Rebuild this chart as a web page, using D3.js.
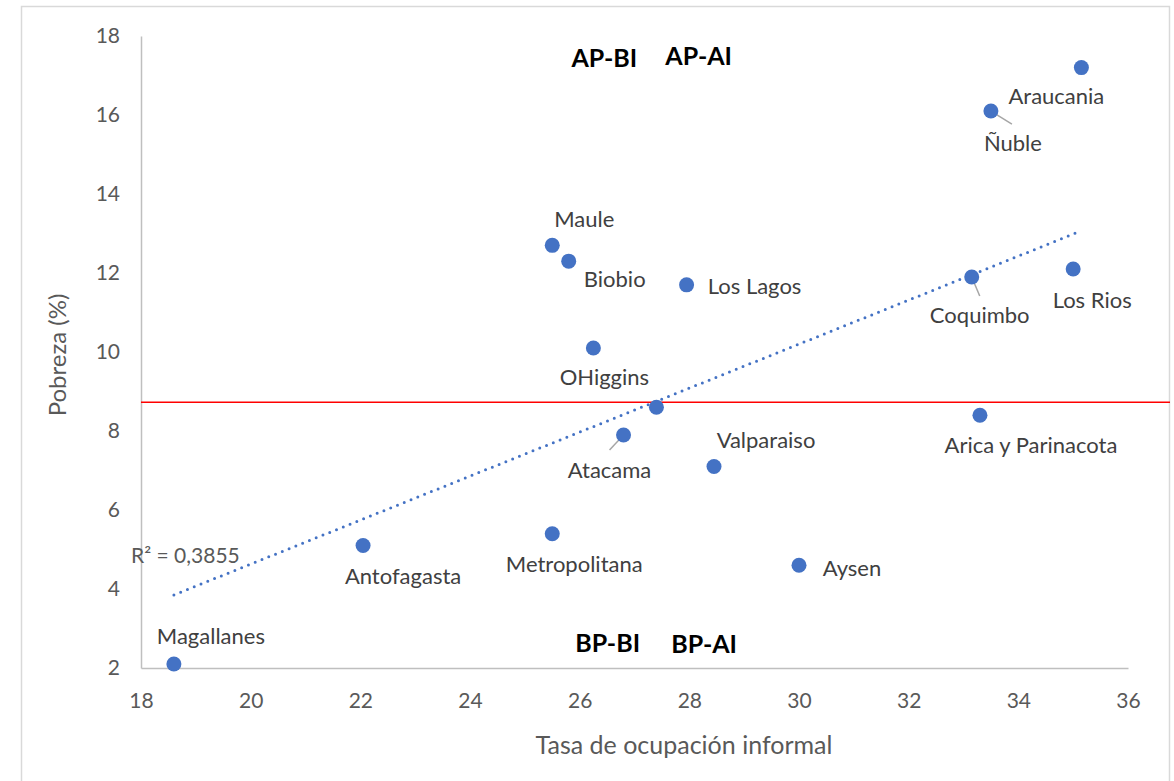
<!DOCTYPE html>
<html>
<head>
<meta charset="utf-8">
<script src="https://cdn.jsdelivr.net/npm/d3@7"></script>
<style>
  html, body { margin: 0; padding: 0; background: #fff; }
  svg { display: block; font-family: Lato, "Open Sans", sans-serif; }
</style>
</head>
<body>
<svg id="chart" width="1174" height="781"></svg>
<script>
// ---- data ----
const regions = ["Magallanes","Antofagasta","Metropolitana","Aysen","Valparaiso","Atacama","Tarapaca","OHiggins","Maule","Biobio","Los Lagos","Coquimbo","Los Rios","Araucania","Ñuble","Arica y Parinacota"];
const informalidad = [18.6, 22.05, 25.5, 30.0, 28.45, 26.8, 27.4, 26.25, 25.5, 25.8, 27.95, 33.15, 35.0, 35.15, 33.5, 33.3];
const pobreza      = [2.1, 5.1, 5.4, 4.6, 7.1, 7.9, 8.6, 10.1, 12.7, 12.3, 11.7, 11.9, 12.1, 17.2, 16.1, 8.4];
const showLabel    = [true,true,true,true,true,true,false,true,true,true,true,true,true,true,true,true];
const xTicks = [18, 20, 22, 24, 26, 28, 30, 32, 34, 36];
const yTicks = [2, 4, 6, 8, 10, 12, 14, 16, 18];
const povertyLine = 8.73;
const trendSlope = 0.557;
const trendIntercept = -6.51;
const rSquaredText = "R² = 0,3855";
const quadrantLabels = ["AP-BI", "AP-AI", "BP-BI", "BP-AI"];
const xTitle = "Tasa de ocupación informal";
const yTitle = "Pobreza (%)";

// ---- layout (not data) ----
const labelOffsets = {
  "Magallanes": [37, -20], "Antofagasta": [40, 38], "Metropolitana": [22, 38],
  "Aysen": [53, 11], "Valparaiso": [52, -19], "Atacama": [-14, 43],
  "OHiggins": [11, 37], "Maule": [32, -18], "Biobio": [46, 26],
  "Los Lagos": [68, 9], "Coquimbo": [8, 46], "Los Rios": [19, 39],
  "Araucania": [-25, 36], "Ñuble": [22, 40], "Arica y Parinacota": [51, 38]
};
const leaders = { "Atacama": [-14, 15], "Coquimbo": [8, 19], "Ñuble": [21, 13] };
const quadPos = [[26.45, 17.22], [28.17, 17.27], [26.51, 2.405], [28.27, 2.38]];

const svg = d3.select("#chart");
const x = d3.scaleLinear().domain([18, 36]).range([141, 1128]);
const y = d3.scaleLinear().domain([2, 18]).range([668, 36]);

// outer border
svg.append("rect").attr("x", 21.5).attr("y", 6.5).attr("width", 1148).attr("height", 820)
  .attr("fill", "none").attr("stroke", "#d9d9d9").attr("stroke-width", 1.5);

// axes
const xAxis = d3.axisBottom(x).tickValues(xTicks).tickSize(0).tickPadding(25);
const gx = svg.append("g").attr("transform", `translate(0,${y(2)})`).call(xAxis);
gx.select(".domain").attr("stroke", "#bfbfbf").attr("stroke-width", 1.5);
gx.selectAll("text").attr("font-size", 21).attr("fill", "#595959").attr("font-family", "Lato, sans-serif");

const yAxis = d3.axisLeft(y).tickValues(yTicks).tickSize(0).tickPadding(21);
const gy = svg.append("g").attr("transform", `translate(${x(18)},0)`).call(yAxis);
gy.select(".domain").attr("stroke", "#bfbfbf").attr("stroke-width", 1.5);
gy.selectAll("text").attr("font-size", 21).attr("fill", "#595959").attr("font-family", "Lato, sans-serif");

// poverty reference line
svg.append("line").attr("x1", x(18)).attr("x2", 1170).attr("y1", y(povertyLine)).attr("y2", y(povertyLine))
  .attr("stroke", "#ff0000").attr("stroke-width", 1.5);

// trendline
const xmin = d3.min(informalidad), xmax = d3.max(informalidad);
svg.append("line")
  .attr("x1", x(xmin)).attr("y1", y(trendSlope * xmin + trendIntercept))
  .attr("x2", x(xmax)).attr("y2", y(trendSlope * xmax + trendIntercept))
  .attr("stroke", "#4472c4").attr("stroke-width", 3)
  .attr("stroke-linecap", "round").attr("stroke-dasharray", "0,7.3");

// R² label
svg.append("text").attr("x", 131).attr("y", 563).attr("font-size", 21).attr("fill", "#595959").text(rSquaredText);

// points
const pts = regions.map((r, i) => ({ name: r, xv: informalidad[i], yv: pobreza[i], lab: showLabel[i] }));

// leader lines
svg.append("g").selectAll("line").data(pts.filter(d => leaders[d.name])).join("line")
  .attr("x1", d => x(d.xv)).attr("y1", d => y(d.yv))
  .attr("x2", d => x(d.xv) + leaders[d.name][0]).attr("y2", d => y(d.yv) + leaders[d.name][1])
  .attr("stroke", "#a6a6a6").attr("stroke-width", 1.5);

svg.append("g").selectAll("circle").data(pts).join("circle")
  .attr("cx", d => x(d.xv)).attr("cy", d => y(d.yv)).attr("r", 7.5)
  .attr("fill", "#4472c4");

svg.append("g").selectAll("text").data(pts.filter(d => d.lab)).join("text")
  .attr("x", d => x(d.xv) + labelOffsets[d.name][0])
  .attr("y", d => y(d.yv) + labelOffsets[d.name][1])
  .attr("text-anchor", "middle").attr("font-size", 22).attr("fill", "#404040")
  .text(d => d.name);

// quadrant labels
svg.append("g").selectAll("text").data(quadrantLabels).join("text")
  .attr("x", (d, i) => x(quadPos[i][0])).attr("y", (d, i) => y(quadPos[i][1]))
  .attr("text-anchor", "middle").attr("font-size", 25).attr("font-weight", "bold").attr("fill", "#000")
  .text(d => d);

// axis titles
svg.append("text").attr("x", 684).attr("y", 754).attr("text-anchor", "middle")
  .attr("font-size", 25).attr("fill", "#595959").text(xTitle);
svg.append("text").attr("transform", "translate(66,355) rotate(-90)").attr("text-anchor", "middle")
  .attr("font-size", 24).attr("fill", "#595959").text(yTitle);
</script>
</body>
</html>
